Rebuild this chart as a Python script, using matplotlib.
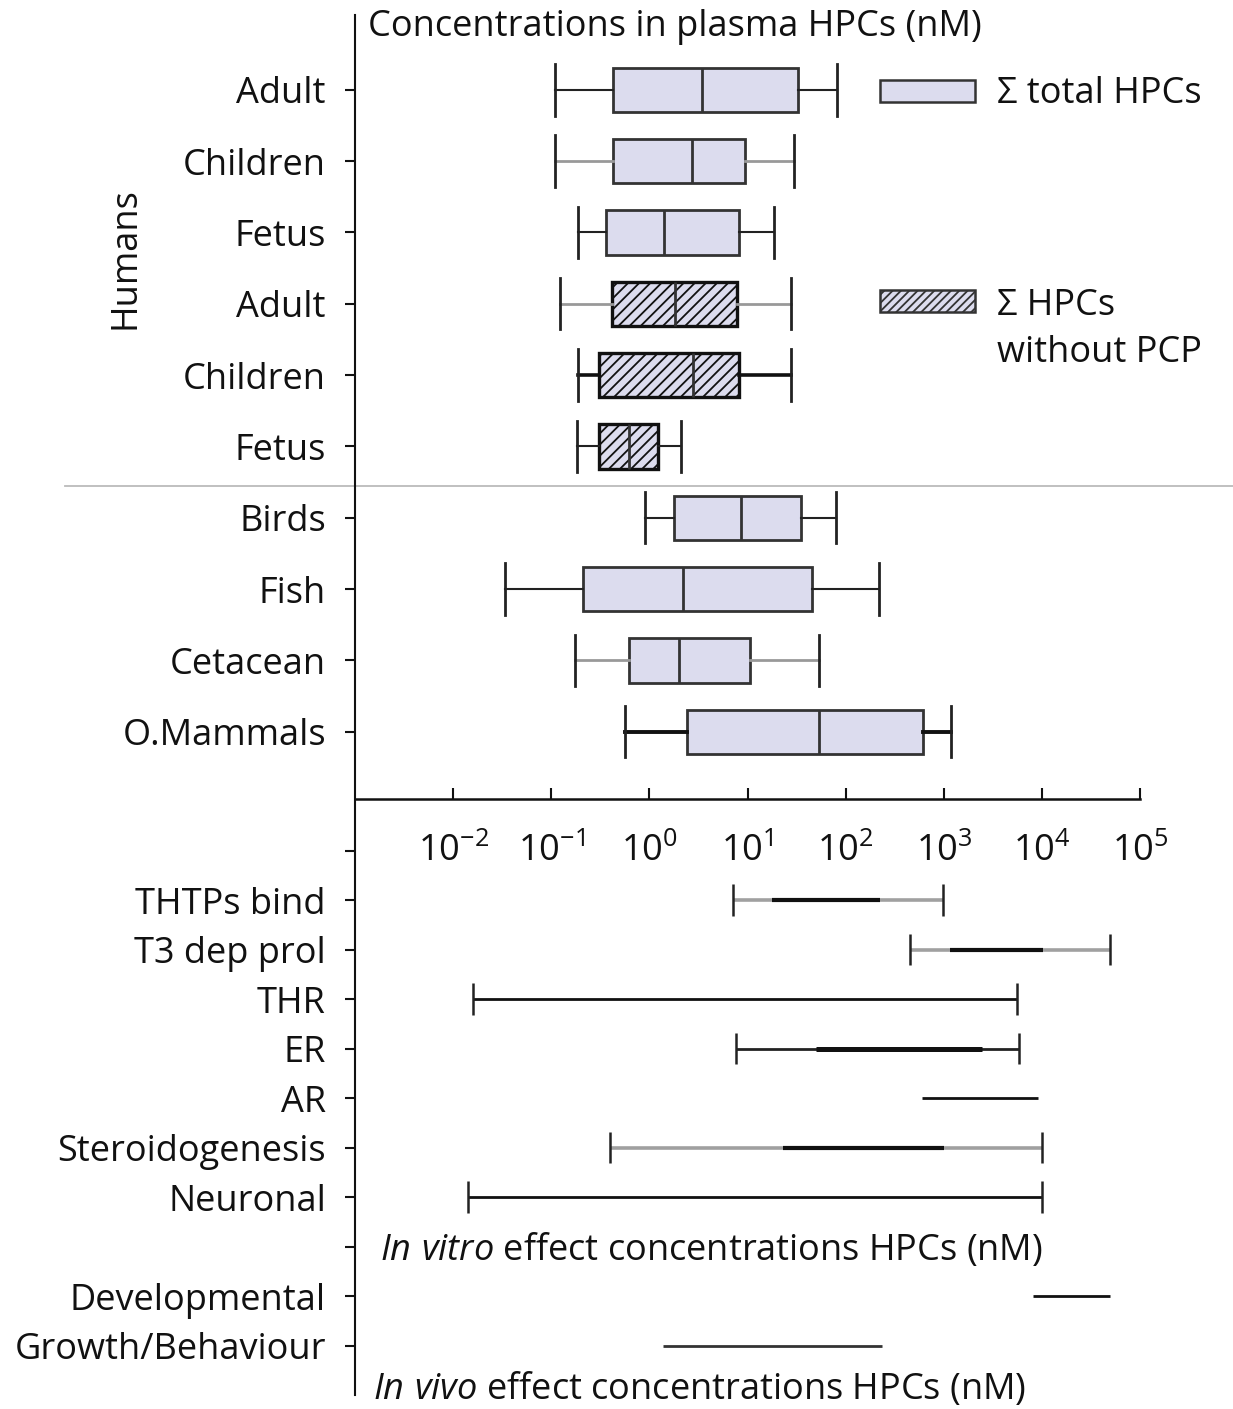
import numpy as np
import matplotlib
matplotlib.use("Agg")
import matplotlib.pyplot as plt
import matplotlib.transforms as mtransforms
from matplotlib.patches import Rectangle

FONT = ['Open Sans', 'DejaVu Sans']
FS = 26
plt.rcParams['font.family'] = FONT
plt.rcParams['mathtext.fontset'] = 'custom'
plt.rcParams['mathtext.rm'] = 'Open Sans'
plt.rcParams['mathtext.it'] = 'Open Sans:italic'
plt.rcParams['hatch.color'] = '#333333'
plt.rcParams['hatch.linewidth'] = 1.3

# ---------------- data ----------------
box_labels = ['Adult', 'Children', 'Fetus', 'Adult', 'Children', 'Fetus',
              'Birds', 'Fish', 'Cetacean', 'O.Mammals']
box_hatched = [False, False, False, True, True, True, False, False, False, False]
box_low = [0.109, 0.109, 0.185, 0.123, 0.185, 0.182, 0.893, 0.0334, 0.175, 0.558]
box_q1 = [0.424, 0.424, 0.362, 0.414, 0.305, 0.305, 1.78, 0.212, 0.621, 2.42]
box_med = [3.42, 2.70, 1.41, 1.83, 2.77, 0.625, 8.65, 2.20, 2.02, 53.0]
box_q3 = [32.6, 9.31, 8.15, 7.78, 8.10, 1.22, 35.3, 44.9, 10.5, 615]
box_high = [81.3, 29.4, 18.4, 27.8, 27.8, 2.10, 79.8, 219, 53.5, 1178]

effect_labels = ['', 'THTPs bind', 'T3 dep prol', 'THR', 'ER', 'AR',
                 'Steroidogenesis', 'Neuronal', '', 'Developmental', 'Growth/Behaviour']
# outer range (min, max) and inner range (None if absent)
eff_min = [None, 7.13, 454, 0.016, 7.55, 597, 0.392, 0.0141, None, 8020, 1.36]
eff_max = [None, 986, 49700, 5530, 5870, 9040, 10070, 10000, None, 49000, 234]
eff_in_min = [None, 17.8, 1162, None, 49.4, None, 23.0, None, None, None, None]
eff_in_max = [None, 225, 10300, None, 2450, None, 1000, None, None, None, None]

xtick_vals = [1e-2, 1e-1, 1e0, 1e1, 1e2, 1e3, 1e4, 1e5]
xtick_labels = ['$10^{-2}$', '$10^{-1}$', '$10^{0}$', '$10^{1}$',
                '$10^{2}$', '$10^{3}$', '$10^{4}$', '$10^{5}$']

# ---------------- styles ----------------
FACE = '#dcdcee'
EDGE = '#333333'
whisk_col = ['#222222', '#999999', '#222222', '#999999', '#111111', '#222222',
             '#222222', '#222222', '#999999', '#111111']
whisk_lw = [1.5, 2.0, 1.5, 2.0, 2.6, 1.5, 1.5, 1.5, 2.0, 2.8]
eff_outer_col = [None, '#a0a0a0', '#a0a0a0', '#111111', '#222222', '#111111',
                 '#a0a0a0', '#111111', None, '#111111', '#333333']
eff_caps = [False, True, True, True, True, False, True, True, False, False, False]

fig = plt.figure(figsize=(12.33, 14.09), dpi=100)
ax = fig.add_axes([0.288, 0.0099, 0.6366, 0.9795])
ax.set_xscale('log')
ax.set_xlim(1e-3, 1e5)

box_pos = np.arange(len(box_labels), dtype=float)
low_step = 0.694
eff_pos = 10.666 + low_step * np.arange(len(effect_labels))
ax.set_ylim(18.30, -1.05)

stats = []
for i in range(len(box_labels)):
    stats.append(dict(whislo=box_low[i], q1=box_q1[i], med=box_med[i],
                      q3=box_q3[i], whishi=box_high[i], label=box_labels[i]))
res = ax.bxp(stats, positions=box_pos, widths=0.62, capwidths=0.72,
             orientation='horizontal', patch_artist=True, showfliers=False,
             manage_ticks=False,
             boxprops=dict(facecolor=FACE, edgecolor=EDGE, linewidth=2.0),
             medianprops=dict(color=EDGE, linewidth=2.0),
             capprops=dict(color='#222222', linewidth=2.0))
for i, b in enumerate(res['boxes']):
    if box_hatched[i]:
        b.set_hatch('///')
        b.set_edgecolor('#111111')
        b.set_linewidth(2.4)
for i in range(len(box_labels)):
    for w in res['whiskers'][2 * i:2 * i + 2]:
        w.set_color(whisk_col[i])
        w.set_linewidth(whisk_lw[i])

# effect ranges
for k in range(len(effect_labels)):
    if eff_min[k] is None:
        continue
    y = eff_pos[k]
    lw = 2.6 if eff_outer_col[k] == '#a0a0a0' else 2.0
    ax.hlines(y, eff_min[k], eff_max[k], color=eff_outer_col[k], lw=lw)
    if eff_in_min[k] is not None:
        ax.hlines(y, eff_in_min[k], eff_in_max[k], color='#111111',
                  lw=3.6 if k == 4 else 3.0)
    if eff_caps[k]:
        ax.vlines([eff_min[k], eff_max[k]], y - 0.22, y + 0.22,
                  color='#222222', lw=1.8)

# axes / ticks
yt = list(box_pos) + list(eff_pos)
ytl = box_labels + effect_labels
ax.set_yticks(yt)
ax.set_yticklabels(ytl)
ax.tick_params(axis='y', direction='out', length=7, width=1.5, pad=14,
               colors='#111111', labelcolor='#111111', labelsize=FS)
ax.set_xticks(xtick_vals)
ax.set_xticklabels(xtick_labels)
ax.xaxis.set_minor_locator(matplotlib.ticker.NullLocator())
ax.tick_params(axis='x', direction='in', length=8, width=1.5, pad=25,
               colors='#111111', labelcolor='#111111', labelsize=FS)
for s in ['top', 'right']:
    ax.spines[s].set_visible(False)
ax.spines['left'].set_linewidth(1.5)
ax.spines['left'].set_color('#111111')
ax.spines['bottom'].set_position(('data', 9.95))
ax.spines['bottom'].set_linewidth(1.8)
ax.spines['bottom'].set_color('#111111')

tr = mtransforms.blended_transform_factory(ax.transAxes, ax.transData)

# separator line
ax.plot([-0.369, 1.118], [5.55, 5.55], transform=tr, clip_on=False,
        color='#bbbbbb', lw=1.3)

# texts
ax.text(0.0166, -0.88, 'Concentrations in plasma HPCs (nM)', transform=tr,
        fontsize=FS, ha='left', va='center', color='#111111')
ax.text(0.032, 16.26, '$\\mathit{In\\ vitro}$ effect concentrations HPCs (nM)',
        transform=tr, fontsize=FS, ha='left', va='center', color='#111111')
ax.text(0.023, 18.22, '$\\mathit{In\\ vivo}$ effect concentrations HPCs (nM)',
        transform=tr, fontsize=FS, ha='left', va='center', color='#111111')
ax.text(-0.293, 2.36, 'Humans', transform=tr, rotation=90, fontsize=FS,
        ha='center', va='center', color='#111111')

# legend
ax.add_patch(Rectangle((0.669, -0.14), 0.121, 0.31, transform=tr, clip_on=False,
                       facecolor=FACE, edgecolor=EDGE, lw=1.8))
ax.add_patch(Rectangle((0.669, 2.80), 0.121, 0.32, transform=tr, clip_on=False,
                       facecolor=FACE, edgecolor=EDGE, lw=1.8, hatch='////'))
ax.text(0.818, 0.06, 'Σ total HPCs', transform=tr, fontsize=FS, ha='left',
        va='center', color='#111111', family=FONT)
ax.text(0.818, 3.03, 'Σ HPCs', transform=tr, fontsize=FS, ha='left',
        va='center', color='#111111', family=FONT)
ax.text(0.818, 3.69, 'without PCP', transform=tr, fontsize=FS, ha='left',
        va='center', color='#111111', family=FONT)

fig.savefig('out.png', dpi=100)
